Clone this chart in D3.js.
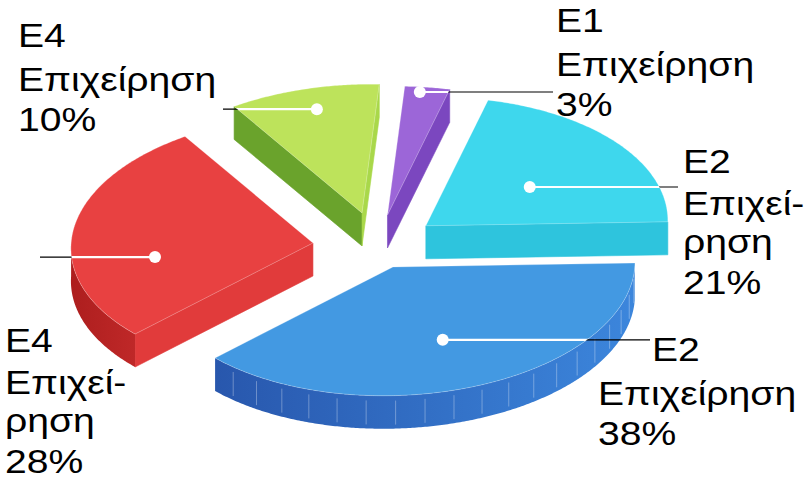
<!DOCTYPE html>
<html><head><meta charset="utf-8">
<script src="https://cdn.jsdelivr.net/npm/d3@7"></script>
<style>body{margin:0;background:#fff}svg{display:block}</style>
</head><body>
<script>
// ---- data ----
const codes = ["E1", "E2", "E2", "E4", "E4"];
const names = ["Επιχείρηση", "Επιχείρηση", "Επιχείρηση", "Επιχείρηση", "Επιχείρηση"];
const values = [3, 21, 38, 28, 10];
const percentLabels = values.map(v => v + "%");

// ---- styles / layout ----
const topColors   = ["#9c66d8", "#3ed7ed", "#4399e2", "#e84141", "#bde35b"];
const startSide   = ["#6f3db0", "#2ec4dd", "#2a5cb2", "#e13b3b", "#6aa32c"];
const endSide     = ["#7b47bf", "#2ec4dd", "#2a5cb2", "#d63535", "#a9d84a"];
const wallColors  = [["#7b47bf","#7b47bf"], ["#2ec4dd","#2ec4dd"], ["#3c86dc","#2857ad"], ["#bf2828","#ad1e1e"], ["#6aa32c","#6aa32c"]];
const explode     = [0.245, 0.25, 0.175, 0.27, 0.27];
const anchorR     = [0.96, 0.515, 0.61, 0.658, 0.835];
const anchorShift = [-1.5, 3.8, 1.4, -15, 1];   // degrees
const hyphenate   = [false, true, false, true, false];
const labelX      = [556, 683, 598, 5, 18];
const labelFirstX = [556, 683, 652, 5, 18];
const labelY      = [32, 173, 361, 352, 47];
const leadEnd     = [553, 678, 650, 40, 223];
const offs3 = [0, 44, 84], offs4 = [0, 42, 80, 121];

const W = 805, H = 483;
const C = [377.7, 246.3], A = [241.4, 4.1], B = [17.3, -128.7], depth = 33;
const textScale = 1.15;

const svg = d3.select("body").append("svg").attr("width", W).attr("height", H);
const defs = svg.append("defs");
const arcs = d3.pie().sort(null).value(d => d)(values);

function vec(r, a) { const u = r*Math.sin(a), v = r*Math.cos(a); return [u*A[0]+v*B[0], u*A[1]+v*B[1]]; }
const line = d3.line();

const slices = arcs.map((d, i) => {
  const mid = (d.startAngle + d.endAngle)/2;
  const o = vec(explode[i], mid);
  const V = [C[0]+o[0], C[1]+o[1]];
  const P = (r, a, z=0) => { const w = vec(r, a); return [V[0]+w[0], V[1]+w[1]+z]; };
  return {d, i, mid, V, P};
});

const order = slices.slice().sort((a, b) => a.V[1] - b.V[1]);
const g = svg.append("g");

order.forEach(s => {
  const {d, i, V, P} = s;
  const a0 = d.startAngle, a1 = d.endAngle;
  const sg = g.append("g");
  const n = Math.max(4, Math.ceil((a1 - a0) / (Math.PI/360)));
  const angs = d3.range(n+1).map(k => a0 + (a1 - a0)*k/n);
  // radial faces
  const tY = a => Math.cos(a)*A[1] - Math.sin(a)*B[1];
  const face = (a, col) => {
    const p = P(1, a);
    sg.append("path").attr("d", line([V, p, [p[0], p[1]+depth], [V[0], V[1]+depth]]) + "Z")
      .attr("fill", col).attr("stroke", col).attr("stroke-width", 0.6);
  };
  if (-tY(a0) > 0) face(a0, startSide[i]);
  if (tY(a1) > 0) face(a1, endSide[i]);
  // curved wall as one polygon with a gradient
  const wallVis = a => Math.sin(a)*A[1] + Math.cos(a)*B[1] > 0;
  const vis = angs.filter(a => wallVis(a));
  if (vis.length > 1) {
    const top = vis.map(a => P(1, a));
    const bot = vis.map(a => P(1, a, depth)).reverse();
    const gid = "wg" + i;
    const lgd = defs.append("linearGradient").attr("id", gid).attr("gradientUnits", "userSpaceOnUse")
      .attr("x1", top[0][0]).attr("y1", 0).attr("x2", top[top.length-1][0]).attr("y2", 0);
    lgd.append("stop").attr("offset", 0).attr("stop-color", wallColors[i][0]);
    lgd.append("stop").attr("offset", 1).attr("stop-color", wallColors[i][1]);
    sg.append("path").attr("d", line([...top, ...bot]) + "Z").attr("fill", `url(#${gid})`);
    if (i === 2) { // faint seams on the large wall
      for (let k = 6; k < vis.length; k += 14) {
        const p = P(1, vis[k]);
        sg.append("line").attr("x1", p[0]).attr("y1", p[1]+5).attr("x2", p[0]).attr("y2", p[1]+depth-4)
          .attr("stroke", "rgba(255,255,255,0.4)").attr("stroke-width", 0.8);
      }
    }
  }
  // top face
  const topPts = [V, ...angs.map(a => P(1, a))];
  const topD = line(topPts) + "Z";
  sg.append("path").attr("d", topD).attr("fill", topColors[i])
    .attr("stroke", "rgba(255,255,255,0.35)").attr("stroke-width", 0.7);
  defs.append("clipPath").attr("id", "clip" + i).append("path").attr("d", topD);
});

// leaders and labels
const lg = svg.append("g");
slices.forEach(s => {
  const i = s.i;
  const D = s.P(anchorR[i], s.mid + anchorShift[i]*Math.PI/180);
  lg.append("line").attr("x1", D[0]).attr("y1", D[1]).attr("x2", leadEnd[i]).attr("y2", D[1])
    .attr("stroke", "#000").attr("stroke-width", 1.2);
  lg.append("line").attr("x1", D[0]).attr("y1", D[1]).attr("x2", leadEnd[i]).attr("y2", D[1])
    .attr("clip-path", `url(#clip${i})`)
    .attr("stroke", "#fff").attr("stroke-width", 2.2);
  lg.append("circle").attr("cx", D[0]).attr("cy", D[1]).attr("r", 6).attr("fill", "#fff");

  const nm = names[i];
  const lines = hyphenate[i] ? [codes[i], nm.slice(0, 6) + "-", nm.slice(6), percentLabels[i]]
                             : [codes[i], nm, percentLabels[i]];
  const offs = lines.length === 4 ? offs4 : offs3;
  lines.forEach((t, k) => {
    const x = k === 0 ? labelFirstX[i] : labelX[i];
    lg.append("text").attr("transform", `translate(${x},${labelY[i] + offs[k]}) scale(${textScale},1)`)
      .attr("font-family", "'Liberation Sans', Arial, sans-serif").attr("font-size", 34)
      .attr("fill", "#000").text(t);
  });
});
</script>
</body></html>
